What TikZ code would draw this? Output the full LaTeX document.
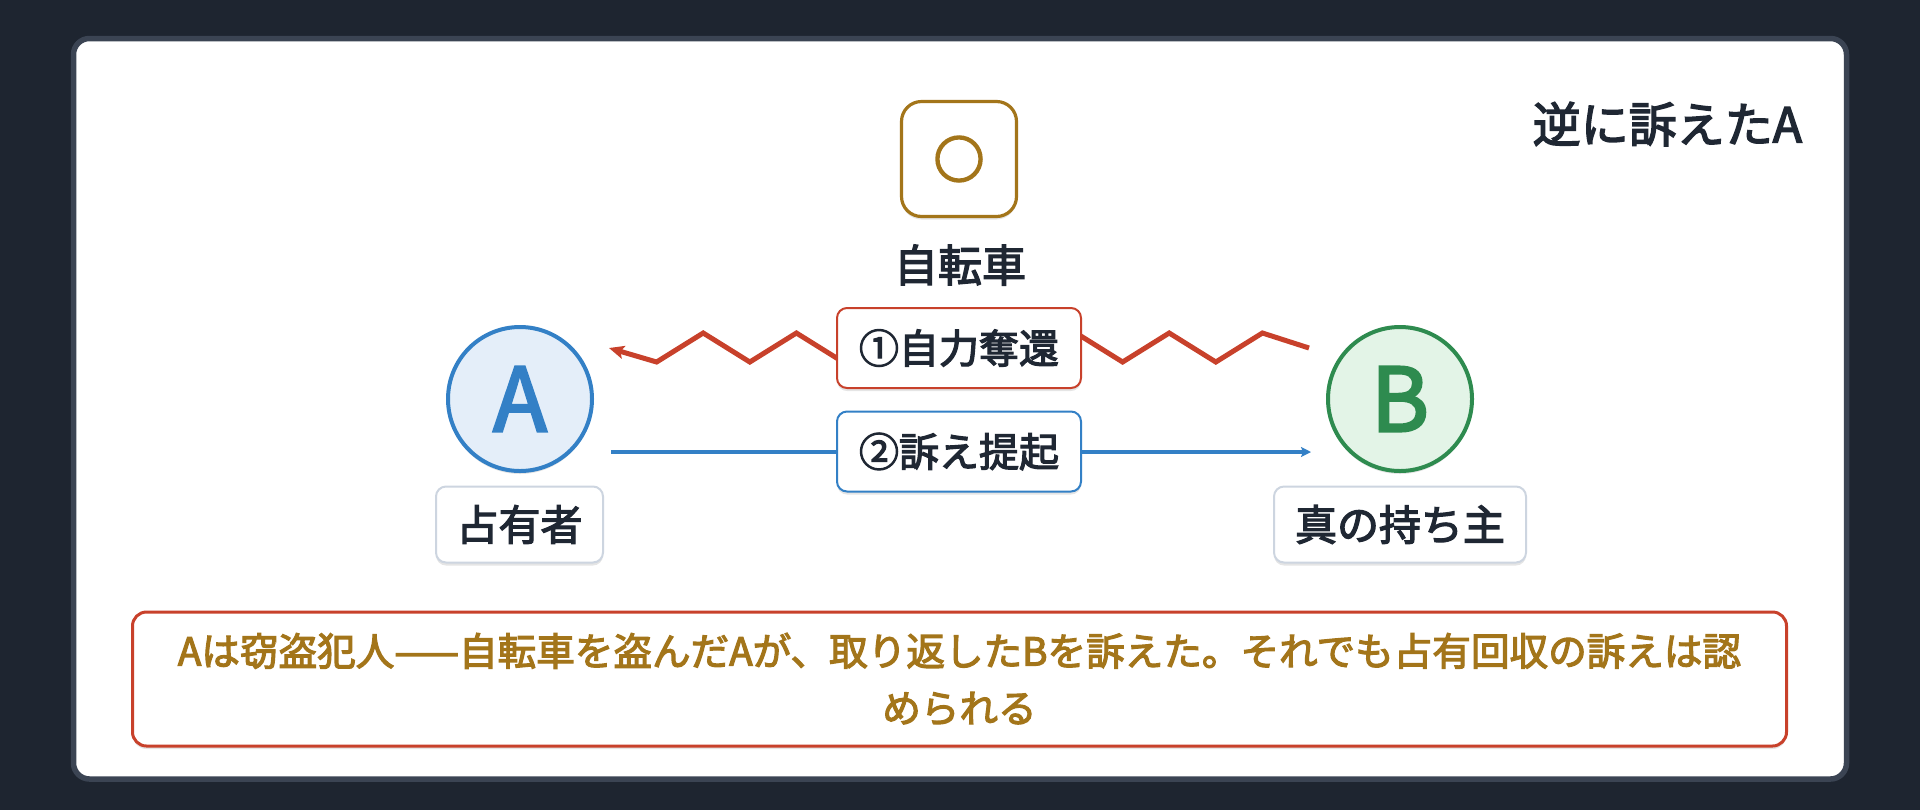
\documentclass[tikz,border=0pt]{standalone}
\usepackage{fontspec}
\setmainfont{Noto Sans CJK JP}
\newfontfamily\med{Noto Sans CJK JP}[FakeBold=3]
\newfontfamily\ringfont{Noto Sans CJK JP}[FakeBold=5]
\usetikzlibrary{shadows,arrows.meta}
\definecolor{bgc}{HTML}{1E2530}
\definecolor{cardline}{HTML}{3B4453}
\definecolor{ink}{HTML}{1F2733}
\definecolor{gold}{HTML}{A3751A}
\definecolor{redc}{HTML}{C8412B}
\definecolor{bluec}{HTML}{3380C6}
\definecolor{bluefill}{HTML}{E4EEF9}
\definecolor{greenc}{HTML}{2E8B4F}
\definecolor{greenfill}{HTML}{E3F4E7}
\definecolor{lblline}{HTML}{CDD5E0}
\tikzset{
  softshadow/.style={drop shadow={shadow xshift=0pt, shadow yshift=-1.5pt, opacity=0.10, fill=black}},
  bikebox/.style={draw=gold, line width=1.6pt, fill=white, rounded corners=10pt, minimum width=57.5pt, minimum height=57.5pt, inner sep=0pt, softshadow, text=gold, font=\ringfont\fontsize{25pt}{25pt}\selectfont},
  person/.style={circle, line width=2pt, minimum size=72pt, inner sep=0pt, softshadow, font=\med\fontsize{44pt}{44pt}\selectfont},
  rolebox/.style={draw=lblline, line width=1pt, fill=white, rounded corners=5pt, minimum height=38pt, inner sep=0pt, text=ink, softshadow, font=\med\fontsize{21pt}{21pt}\selectfont},
  actbox/.style={line width=1pt, fill=white, rounded corners=5pt, minimum width=122pt, minimum height=40pt, inner sep=0pt, text=ink, softshadow, font=\med\fontsize{20pt}{20pt}\selectfont},
  zig/.style={draw=redc, line width=2.5pt, line join=miter, -{Stealth[length=7.5pt,width=6.5pt,inset=1.5pt]}},
  sue/.style={draw=bluec, line width=1.75pt, -{Stealth[length=5pt,width=5pt,inset=1pt]}},
  notebox/.style={draw=redc, line width=1.5pt, fill=white, rounded corners=7pt, minimum width=827pt, minimum height=67pt, inner sep=0pt, softshadow, text=gold, align=center, font=\med\fontsize{19.3pt}{28.5pt}\selectfont},
}
\begin{document}
\begin{tikzpicture}[x=0.5pt,y=-0.5pt]
\fill[bgc] (0,0) rectangle (1920,810);
\useasboundingbox (0,0) rectangle (1920,810);
\draw[draw=cardline, fill=white, line width=2.75pt, rounded corners=8pt] (73.5,38.5) rectangle (1846.5,779);

\node[anchor=east, text=ink, font=\med\fontsize{24pt}{24pt}\selectfont] (title) at (1809,124) {逆に訴えたA};

\node[bikebox] (bike) at (959,159) {○};
\node[text=ink, font=\med\fontsize{22pt}{22pt}\selectfont] (bikelbl) at (960,265) {自転車};

\node[person, draw=bluec, fill=bluefill, text=bluec] (A) at (520,399) {A};
\node[person, draw=greenc, fill=greenfill, text=greenc] (B) at (1400,399) {B};

\node[rolebox, minimum width=83.5pt] (Alabel) at (519.5,524.5) {占有者};
\node[rolebox, minimum width=126pt] (Blabel) at (1400,524.5) {真の持ち主};

\coordinate (zs) at (1309,348);
\coordinate (ze) at (609,348);
\draw[zig] (zs) -- ++(-46.6,-15) -- ++(-46.6,29) -- ++(-46.6,-29) -- ++(-46.6,29)
  -- ++(-46.6,-29) -- ++(-46.6,29) -- ++(-46.6,-29) -- ++(-46.6,29)
  -- ++(-46.6,-29) -- ++(-46.6,29) -- ++(-46.6,-29) -- ++(-46.6,29)
  -- ++(-46.6,-29) -- ++(-46.6,29) -- (ze);

\coordinate (ss) at (611,452);
\coordinate (se) at (1311,452);
\draw[sue] (ss) -- (se);

\node[actbox, draw=redc] (act1) at (959,348) {①自力奪還};
\node[actbox, draw=bluec] (act2) at (959,451.5) {②訴え提起};

\node[notebox] (note) at (959.5,679) {Aは窃盗犯人——自転車を盗んだAが、取り返したBを訴えた。それでも占有回収の訴えは認\\められる};
\end{tikzpicture}
\end{document}
